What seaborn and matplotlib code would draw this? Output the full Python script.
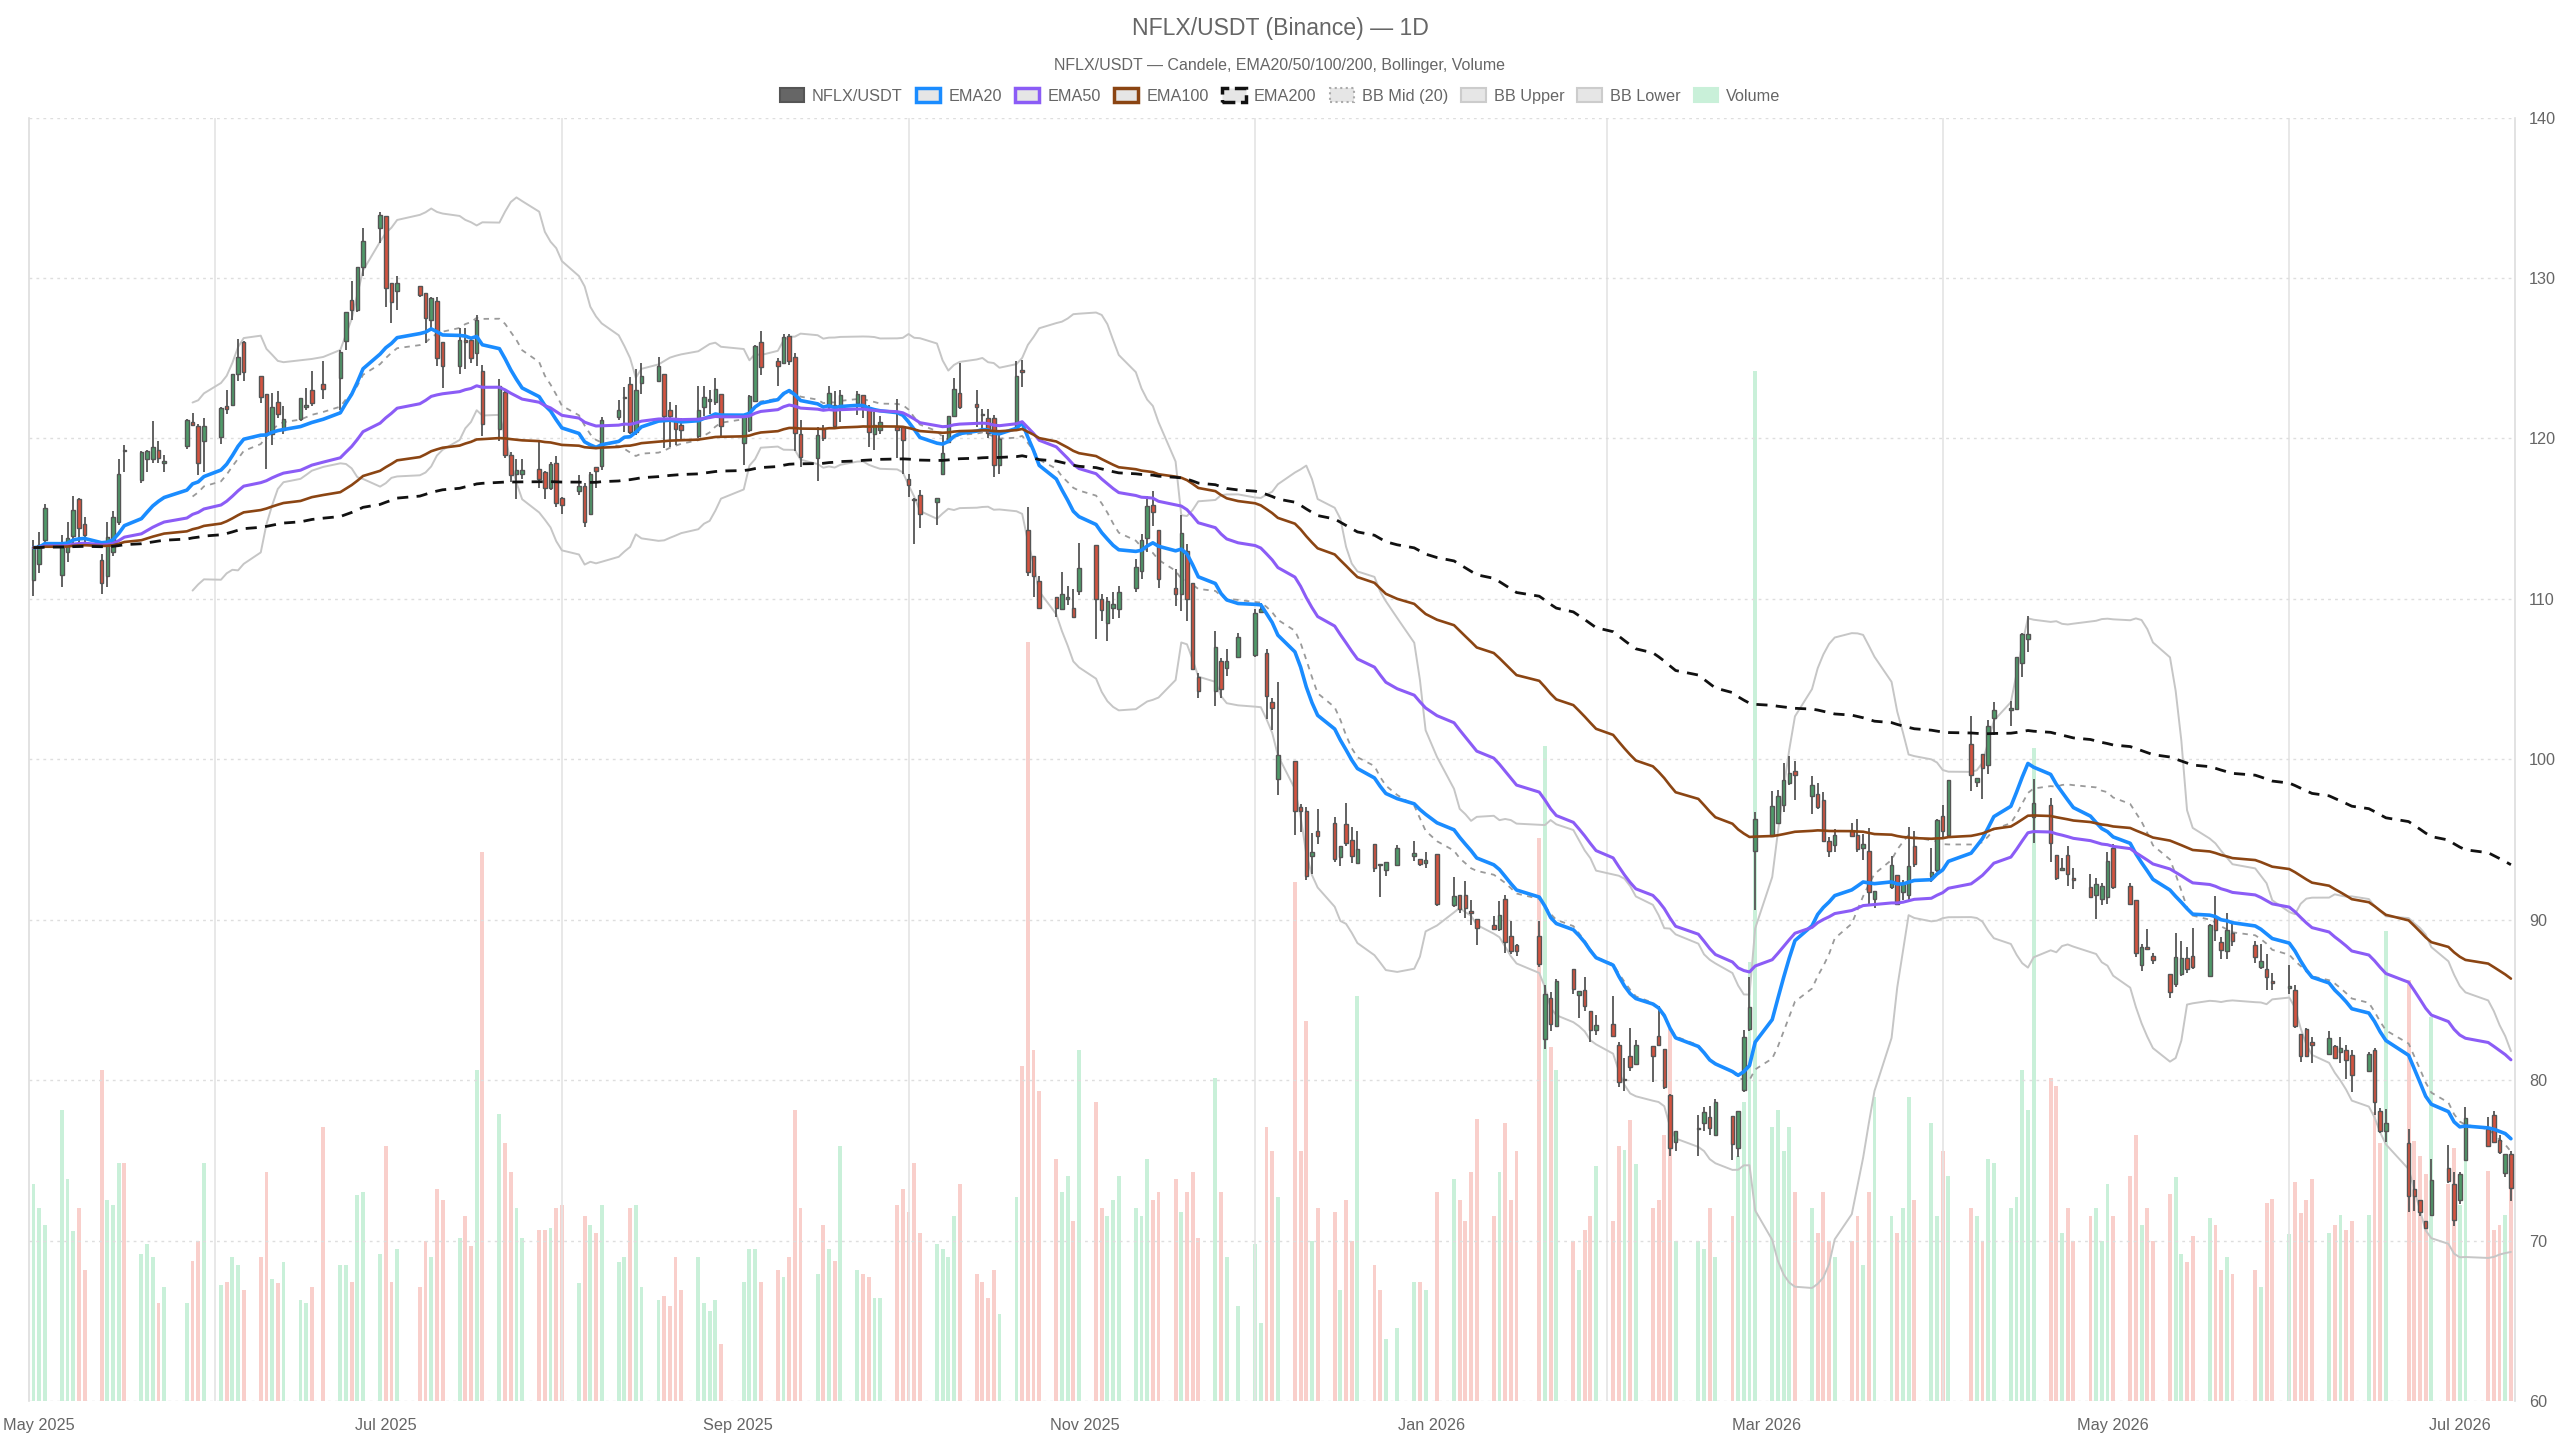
import numpy as np
import pandas as pd
import seaborn as sns
import matplotlib
matplotlib.use('Agg')
import matplotlib.pyplot as plt
import matplotlib.dates as mdates
from matplotlib.patches import Patch

sns.set_theme(style='white')
plt.rcParams['font.family'] = ['Liberation Sans', 'DejaVu Sans']

# trading calendar (NYSE holidays are skipped)
holidays = ['2025-05-26', '2025-06-19', '2025-07-04', '2025-09-01', '2025-11-27', '2025-12-25',
            '2026-01-01', '2026-01-19', '2026-02-16', '2026-04-03', '2026-05-25', '2026-06-19',
            '2026-07-03']
dates = pd.bdate_range('2025-04-30', '2026-07-10', freq='C', holidays=holidays)

# one line per week
opens = [
    111.2, 112.2, 113.7,
    111.5, 112.9, 113.9, 116.2, 114.7,
    112.4, 111.45, 112.9, 114.8, 119.3,
    117.4, 118.7, 118.7, 119.3, 118.45,
    119.55, 121.0, 120.8, 119.85,
    120.1, 122.05, 122.1, 124.0, 126.0,
    123.9, 122.75, 120.25, 122.25, 120.55,
    121.2, 121.95, 123.0, 123.4,
    123.8, 126.05, 128.65, 128.0, 130.7,
    133.1, 133.85, 129.7, 129.2,
    129.5, 129.05, 127.4, 128.55, 126.0,
    124.5, 126.15, 126.15, 125.3, 124.2,
    120.6, 122.9, 118.95, 117.8, 117.8,
    118.1, 117.9, 116.9, 118.5, 116.3,
    116.75, 117.05, 115.3, 118.2, 118.3,
    121.35, 122.5, 123.4, 120.4, 123.45,
    123.6, 124.0, 121.8, 121.15, 120.85,
    120.15, 121.95, 122.35, 122.3, 122.8,
    119.7, 120.5, 122.35, 126.0,
    124.85, 124.7, 126.4, 125.1, 120.25,
    118.8, 120.6, 122.1, 122.1, 121.85,
    122.2, 122.7, 121.85, 120.3, 120.55,
    120.7, 120.7, 117.5, 116.25, 116.5,
    116.05, 117.8, 119.8, 121.4, 122.85,
    122.15, 121.5, 121.25, 121.25, 118.35,
    120.7, 124.3, 114.3, 112.7, 111.1,
    110.1, 109.4, 110.0, 109.45, 110.5,
    113.35, 110.0, 108.5, 109.45, 109.4,
    110.65, 111.75, 113.8, 115.85, 114.3,
    110.7, 110.3, 113.0, 111.0, 105.15,
    104.25, 106.15, 105.7, 106.4,
    106.5, 109.2, 106.65, 103.6, 98.75,
    99.9, 97.05, 96.75, 94.0, 95.5,
    96.0, 93.9, 95.95, 95.0, 93.55,
    94.7, 93.5, 93.1, 93.4,
    94.0, 93.8, 93.55, 94.1,
    90.9, 91.55, 91.55, 90.55, 90.05,
    89.7, 89.4, 91.3, 89.0, 88.4,
    89.0, 82.55, 85.1, 83.4,
    86.9, 85.3, 85.65, 84.3, 83.1,
    83.5, 82.2, 80.0, 81.5, 81.0,
    82.15, 82.75, 81.95, 79.1, 76.15,
    76.95, 77.35, 77.7, 76.6,
    77.75, 75.75, 79.4, 83.2, 94.3,
    95.25, 96.05, 97.15, 98.55, 99.3,
    97.7, 97.85, 97.45, 94.9, 94.65,
    95.55, 95.3, 94.45, 94.3, 91.3,
    92.05, 92.8, 91.7, 91.55, 94.6,
    92.7, 93.1, 96.45, 95.3,
    100.95, 98.6, 100.35, 99.65, 102.55,
    103.05, 103.15, 106.0, 107.5, 96.4,
    97.15, 94.05, 93.1, 94.05, 92.6,
    92.05, 91.55, 91.3, 91.4, 94.45,
    92.1, 91.25, 87.15, 88.3, 87.75,
    86.6, 86.0, 86.6, 87.6, 87.75,
    86.5, 90.2, 88.6, 88.05, 89.15,
    88.45, 87.05, 86.95, 86.2,
    85.75, 85.65, 82.9, 83.2, 82.35,
    81.65, 82.15, 81.75, 81.9, 81.55,
    80.55, 81.9, 78.05, 76.85,
    76.1, 73.2, 72.55, 71.2, 71.6,
    74.55, 73.5, 72.55, 75.05,
    76.95, 77.85, 76.25, 74.2, 75.4,
]

highs = [
    113.7, 114.2, 115.9,
    114.0, 114.8, 116.4, 116.3, 115.1,
    112.8, 114.8, 115.5, 118.75, 119.6,
    119.2, 119.3, 121.1, 119.85, 119.0,
    121.2, 121.6, 120.9, 121.25,
    121.95, 123.0, 124.0, 126.2, 126.1,
    123.9, 122.8, 122.85, 122.95, 122.0,
    122.55, 123.15, 124.2, 124.8,
    125.5, 127.9, 129.8, 130.7, 133.1,
    134.1, 133.9, 129.7, 130.15,
    129.5, 129.1, 128.85, 128.85, 126.0,
    126.9, 126.9, 126.35, 127.7, 124.55,
    123.7, 123.05, 119.15, 118.7, 118.7,
    119.8, 118.0, 118.55, 118.9, 116.35,
    117.7, 117.2, 117.9, 118.25, 121.35,
    122.4, 123.2, 123.85, 124.35, 124.7,
    125.1, 124.0, 122.3, 122.1, 121.25,
    123.3, 123.3, 123.0, 123.75, 122.8,
    121.55, 122.7, 125.8, 126.7,
    125.0, 126.5, 126.5, 125.3, 121.15,
    120.7, 120.85, 123.3, 122.95, 123.0,
    122.95, 122.7, 122.1, 121.65, 121.4,
    122.45, 120.7, 117.8, 116.3, 116.8,
    116.3, 120.2, 121.4, 123.75, 124.7,
    123.05, 121.85, 121.85, 121.45, 120.2,
    124.8, 124.9, 115.7, 112.7, 111.45,
    110.1, 111.65, 110.8, 110.6, 113.5,
    113.35, 110.3, 110.1, 110.4, 110.8,
    112.5, 114.05, 116.4, 116.75, 114.3,
    111.85, 115.2, 113.4, 111.0, 105.4,
    108.0, 106.3, 106.85, 107.9,
    109.35, 109.75, 106.85, 103.85, 104.8,
    99.9, 97.2, 97.0, 95.4, 96.9,
    96.4, 94.6, 97.3, 95.8, 95.55,
    94.7, 93.5, 93.6, 94.65,
    94.9, 93.8, 94.25, 94.1,
    92.65, 91.55, 92.4, 91.2, 90.05,
    90.25, 91.15, 91.55, 89.95, 88.5,
    89.9, 85.95, 85.5, 86.3,
    86.95, 85.55, 86.4, 84.3, 84.05,
    85.25, 82.4, 81.35, 83.25, 82.5,
    82.15, 84.6, 81.95, 79.15, 76.85,
    77.85, 78.3, 78.4, 78.85,
    77.75, 78.1, 83.1, 86.4, 96.7,
    98.05, 98.1, 99.75, 100.2, 99.9,
    98.95, 98.5, 97.95, 95.15, 95.65,
    96.05, 96.3, 95.35, 95.7, 91.8,
    93.95, 92.8, 92.45, 95.8, 95.55,
    94.45, 96.25, 97.15, 98.7,
    102.7, 98.85, 100.35, 102.45, 103.6,
    103.65, 106.35, 107.9, 108.95, 98.75,
    97.6, 94.05, 93.85, 94.6, 93.25,
    92.85, 92.6, 92.3, 94.2, 94.7,
    92.3, 91.25, 88.5, 89.4, 87.95,
    86.6, 89.15, 88.65, 88.3, 89.5,
    89.75, 91.5, 88.9, 90.4, 89.85,
    88.65, 88.5, 87.85, 86.7,
    87.2, 85.95, 82.9, 83.25, 82.7,
    83.05, 82.2, 82.7, 82.2, 81.9,
    81.75, 82.0, 78.25, 78.2,
    76.95, 73.8, 72.55, 71.2, 75.1,
    75.95, 74.25, 74.25, 78.3,
    77.7, 78.1, 76.55, 75.4, 75.6,
]

lows = [
    110.15, 111.6, 113.3,
    110.75, 112.3, 113.5, 113.4, 113.4,
    110.3, 110.75, 112.7, 114.6, 117.9,
    117.2, 117.9, 118.5, 118.5, 117.9,
    119.35, 120.8, 117.7, 117.9,
    119.65, 121.5, 122.05, 123.6, 123.6,
    122.2, 118.1, 119.6, 121.3, 120.25,
    121.1, 121.8, 122.0, 122.45,
    121.8, 125.5, 127.4, 127.9, 130.1,
    132.2, 128.2, 127.2, 128.0,
    128.85, 125.95, 126.8, 124.5, 123.15,
    124.0, 124.35, 124.7, 124.5, 120.15,
    119.85, 118.8, 117.3, 116.25, 117.5,
    116.9, 116.25, 116.8, 115.75, 115.3,
    116.5, 114.5, 115.2, 116.9, 118.05,
    121.15, 120.4, 120.3, 120.2, 122.8,
    123.55, 119.4, 119.5, 119.6, 119.9,
    120.0, 121.4, 121.55, 122.1, 120.15,
    118.35, 120.4, 122.3, 123.95,
    123.25, 124.65, 124.6, 119.25, 118.25,
    117.35, 119.85, 121.75, 120.6, 121.05,
    121.45, 121.3, 119.5, 119.3, 120.3,
    118.8, 117.8, 116.35, 113.45, 114.4,
    114.6, 117.7, 119.7, 121.35, 121.85,
    120.7, 120.6, 120.0, 117.6, 117.8,
    120.65, 123.2, 111.4, 110.1, 109.4,
    108.85, 109.35, 109.65, 108.9, 110.25,
    107.5, 108.6, 107.4, 108.75, 108.8,
    110.4, 111.25, 112.9, 114.55, 110.7,
    109.55, 109.25, 108.6, 105.6, 103.8,
    103.3, 103.8, 105.2, 106.3,
    106.35, 109.1, 102.5, 101.8, 97.8,
    95.3, 95.45, 92.45, 92.85, 94.7,
    93.6, 93.35, 94.6, 93.55, 93.45,
    92.95, 91.4, 92.75, 93.35,
    93.65, 93.35, 93.25, 90.85,
    90.8, 90.4, 90.1, 89.7, 88.4,
    89.4, 89.3, 87.95, 87.85, 87.75,
    87.05, 81.95, 83.05, 83.3,
    85.4, 83.9, 84.3, 82.35, 82.8,
    82.75, 79.6, 79.3, 80.55, 80.95,
    79.9, 82.15, 79.45, 75.25, 75.6,
    75.3, 76.85, 76.6, 76.55,
    75.05, 75.2, 79.25, 83.05, 90.6,
    95.25, 96.0, 96.7, 98.4, 97.45,
    96.6, 96.9, 94.85, 93.9, 94.2,
    95.15, 94.25, 93.7, 90.85, 90.7,
    91.9, 90.9, 91.25, 91.1, 93.3,
    92.35, 92.95, 95.05, 95.25,
    98.0, 98.3, 97.55, 99.1, 101.5,
    102.1, 103.1, 105.1, 106.7, 94.8,
    93.6, 92.45, 93.05, 92.1, 91.9,
    91.4, 90.05, 90.9, 90.95, 91.9,
    90.95, 87.65, 86.8, 88.2, 87.25,
    85.1, 85.8, 86.5, 86.7, 86.9,
    86.4, 88.7, 87.55, 87.55, 88.35,
    87.3, 86.95, 85.65, 85.65,
    85.35, 83.25, 81.1, 81.45, 81.05,
    81.55, 81.35, 81.05, 80.1, 79.25,
    80.5, 77.8, 76.7, 76.15,
    71.75, 71.85, 71.5, 70.7, 71.55,
    73.6, 70.9, 72.25, 75.0,
    75.9, 76.15, 75.4, 73.95, 72.45,
]

closes = [
    113.2, 113.35, 115.65,
    113.4, 113.8, 115.55, 114.4, 114.0,
    111.0, 113.85, 115.1, 117.8, 119.2,
    119.15, 119.25, 119.5, 118.8, 118.6,
    121.15, 120.85, 118.5, 120.75,
    121.9, 121.85, 124.0, 125.05, 124.15,
    122.6, 120.35, 121.95, 121.5, 121.2,
    122.5, 122.1, 122.2, 123.1,
    125.4, 127.9, 128.0, 130.7, 132.3,
    133.95, 129.4, 128.5, 129.7,
    128.95, 127.5, 128.75, 125.0, 124.5,
    126.15, 126.0, 125.0, 127.4, 120.9,
    123.3, 119.0, 117.7, 118.05, 118.05,
    117.45, 116.9, 118.4, 115.95, 115.85,
    117.05, 114.8, 117.8, 118.0, 121.15,
    121.8, 122.55, 120.4, 123.05, 123.9,
    124.5, 121.4, 121.4, 120.6, 120.5,
    121.8, 122.6, 122.45, 123.1, 120.8,
    121.4, 122.65, 125.75, 124.45,
    124.5, 126.35, 124.8, 120.35, 118.85,
    120.2, 120.05, 122.85, 120.75, 122.7,
    122.75, 121.95, 120.4, 120.85, 121.05,
    120.5, 119.9, 117.1, 116.15, 115.3,
    116.3, 119.1, 121.4, 123.1, 121.95,
    121.95, 121.45, 120.35, 118.35, 119.95,
    123.9, 124.15, 111.65, 111.4, 109.45,
    109.45, 110.3, 110.1, 108.9, 111.9,
    110.0, 109.3, 109.9, 109.7, 110.4,
    112.0, 113.7, 115.8, 115.4, 111.25,
    110.3, 114.1, 110.0, 105.65, 104.25,
    107.0, 104.4, 106.15, 107.6,
    109.15, 109.35, 103.95, 103.2, 100.25,
    96.8, 96.75, 92.75, 94.2, 95.25,
    93.8, 94.6, 94.8, 93.95, 94.4,
    93.25, 93.4, 93.6, 94.5,
    94.15, 93.5, 93.75, 91.0,
    91.45, 90.65, 90.7, 90.45, 89.5,
    89.4, 90.3, 88.6, 88.05, 88.05,
    87.25, 85.4, 83.5, 86.15,
    85.7, 85.55, 84.6, 83.15, 83.45,
    82.75, 79.9, 80.1, 80.85, 82.2,
    81.5, 82.2, 79.55, 75.8, 76.85,
    77.0, 78.0, 77.0, 78.65,
    76.0, 78.05, 82.7, 84.55, 96.25,
    97.1, 97.7, 98.7, 99.15, 99.05,
    98.4, 97.05, 94.9, 94.3, 95.3,
    95.25, 94.4, 94.75, 91.75, 91.8,
    93.4, 91.0, 92.25, 93.35, 93.5,
    92.95, 96.2, 95.55, 98.7,
    99.0, 98.85, 99.45, 102.1, 103.05,
    103.2, 106.35, 107.8, 107.8, 97.3,
    94.8, 92.6, 93.25, 92.85, 92.5,
    91.4, 92.25, 92.1, 93.65, 92.05,
    91.0, 87.9, 88.3, 88.2, 87.5,
    85.5, 87.7, 87.6, 86.95, 87.05,
    89.7, 89.35, 88.1, 89.35, 88.65,
    87.7, 87.45, 86.4, 86.05,
    85.85, 83.35, 81.5, 81.5, 82.2,
    82.65, 81.4, 82.0, 81.25, 80.3,
    81.65, 78.65, 76.85, 77.35,
    72.8, 72.75, 71.75, 70.8, 73.75,
    73.7, 71.3, 74.15, 77.65,
    75.9, 76.15, 75.5, 75.4, 73.3,
]

volumes = [
    133, 118, 108,
    178, 136, 104, 118, 80,
    203, 123, 120, 146, 146,
    90, 96, 88, 60, 70,
    60, 86, 98, 146,
    71, 73, 88, 83, 68,
    88, 140, 75, 72, 85,
    62, 60, 70, 168,
    83, 83, 73, 126, 128,
    90, 156, 73, 93,
    70, 98, 88, 130, 123,
    100, 113, 95, 203, 336,
    176, 158, 140, 118, 100,
    105, 105, 106, 118, 120,
    72, 113, 108, 103, 120,
    85, 88, 118, 120, 70,
    62, 64, 58, 88, 68,
    88, 60, 55, 62, 35,
    73, 93, 93, 73,
    80, 76, 88, 178, 118,
    78, 108, 93, 86, 156,
    80, 78, 76, 63, 63,
    120, 130, 116, 146, 103,
    96, 93, 88, 113, 133,
    78, 73, 63, 80, 53,
    125, 205, 465, 215, 190,
    148, 128, 138, 110, 215,
    183, 118, 113, 123, 138,
    118, 113, 148, 123, 128,
    136, 116, 128, 140, 100,
    198, 128, 88, 58,
    96, 48, 168, 153, 125,
    318, 153, 233, 98, 118,
    116, 68, 123, 98, 248,
    83, 68, 38, 45,
    73, 73, 68, 128,
    136, 123, 110, 140, 173,
    113, 140, 170, 123, 153,
    345, 401, 217, 203,
    98, 80, 105, 113, 144,
    110, 156, 154, 172, 145,
    118, 123, 163, 228, 98,
    98, 93, 118, 88,
    113, 150, 183, 269, 631,
    168, 178, 153, 168, 128,
    118, 103, 128, 98, 88,
    98, 113, 83, 128, 186,
    113, 103, 118, 186, 123,
    170, 113, 153, 138,
    118, 113, 98, 148, 146,
    118, 125, 203, 178, 400,
    198, 193, 103, 118, 98,
    113, 118, 98, 133, 113,
    138, 163, 108, 118, 98,
    127, 137, 90, 85, 101,
    112, 108, 80, 88, 78,
    80, 70, 121, 124,
    102, 134, 115, 123, 136,
    103, 108, 114, 105, 110,
    114, 177, 158, 288,
    258, 159, 150, 139, 235,
    133, 155, 120, 148,
    141, 105, 108, 114, 150,
]

title = 'NFLX/USDT (Binance) — 1D'
subtitle = 'NFLX/USDT — Candele, EMA20/50/100/200, Bollinger, Volume'

up_color = '#4f9a69'
down_color = '#d4533f'
vol_up = '#c9f0d9'
vol_down = '#f9cfcb'
ema_colors = {'ema20': '#1a8cff', 'ema50': '#8b5cf6', 'ema100': '#8b4513', 'ema200': '#111111'}

df = pd.DataFrame({'date': dates, 'open': opens, 'high': highs, 'low': lows,
                   'close': closes, 'volume': volumes})
df['up'] = df['close'] >= df['open']
for n in [20, 50, 100, 200]:
    df[f'ema{n}'] = df['close'].ewm(span=n, adjust=False).mean()
df['bb_mid'] = df['close'].rolling(20).mean()
bb_std = df['close'].rolling(20).std(ddof=0)
df['bb_up'] = df['bb_mid'] + 2 * bb_std
df['bb_lo'] = df['bb_mid'] - 2 * bb_std

fig = plt.figure(figsize=(25.6, 14.4), dpi=100)
ax = fig.add_axes([0.0115, 0.0271, 0.9709, 0.8912])
axv = ax.twinx()
ax.set_zorder(axv.get_zorder() + 1)
ax.patch.set_visible(False)

# volume (behind everything)
axv.bar(df['date'], df['volume'], width=0.68,
        color=np.where(df['up'], vol_up, vol_down), linewidth=0)
axv.set_ylim(0, 786)
axv.set_yticks([])
for s in axv.spines.values():
    s.set_visible(False)

# bollinger
sns.lineplot(data=df, x='date', y='bb_up', ax=ax, color='#c6c6c6', linewidth=1.4, legend=False)
sns.lineplot(data=df, x='date', y='bb_lo', ax=ax, color='#c6c6c6', linewidth=1.4, legend=False)
sns.lineplot(data=df, x='date', y='bb_mid', ax=ax, color='#9a9a9a', linewidth=1.3,
             linestyle=(0, (3, 3)), legend=False)

# candles
body_lo = np.minimum(df['open'], df['close'])
body_h = np.maximum(np.abs(df['close'] - df['open']), 0.08)
ax.vlines(df['date'], df['low'], df['high'], color='#555555', linewidth=1.3, zorder=3)
ax.bar(df['date'], body_h, bottom=body_lo, width=0.62,
       color=np.where(df['up'], up_color, down_color), edgecolor='#555555', linewidth=1.0, zorder=4)

# EMAs
sns.lineplot(data=df, x='date', y='ema20', ax=ax, color=ema_colors['ema20'], linewidth=2.6, legend=False, zorder=5)
sns.lineplot(data=df, x='date', y='ema50', ax=ax, color=ema_colors['ema50'], linewidth=2.2, legend=False, zorder=5)
sns.lineplot(data=df, x='date', y='ema100', ax=ax, color=ema_colors['ema100'], linewidth=1.9, legend=False, zorder=5)
sns.lineplot(data=df, x='date', y='ema200', ax=ax, color=ema_colors['ema200'], linewidth=2.0,
             linestyle=(0, (4, 3)), legend=False, zorder=5)

# axes
ax.set_ylim(60, 140)
ax.set_xlim(df['date'].iloc[0] - pd.Timedelta(hours=17), df['date'].iloc[-1] + pd.Timedelta(hours=17))
ax.yaxis.tick_right()
ax.yaxis.set_label_position('right')
ax.set_yticks(range(60, 141, 10))
ax.set_xlabel('')
ax.set_ylabel('')
ax.xaxis.set_major_locator(mdates.MonthLocator(bymonth=[1, 3, 5, 7, 9, 11]))
ax.xaxis.set_major_formatter(mdates.DateFormatter('%b %Y'))
ax.xaxis.set_minor_locator(mdates.MonthLocator(bymonth=[2, 4, 6, 8, 10, 12]))
ax.tick_params(axis='y', colors='#666666', labelsize=11.7, length=0, pad=10)
ax.tick_params(axis='x', which='major', colors='#666666', labelsize=11.7, length=0, pad=12)
ax.tick_params(axis='x', which='minor', length=8, width=1, color='#e2e2e2')
ax.grid(axis='y', which='major', linestyle=(0, (2, 3)), color='#dedede', linewidth=1)
ax.grid(axis='x', which='minor', color='#e4e4e4', linewidth=1.2)
ax.grid(axis='x', which='major', visible=False)
for side in ['top', 'bottom']:
    ax.spines[side].set_visible(False)
for side in ['left', 'right']:
    ax.spines[side].set_color('#dddddd')
    ax.spines[side].set_linewidth(1.2)

fig.text(0.5, 0.9800, title, ha='center', va='center', fontsize=16.6, color='#666666')
fig.text(0.5, 0.9545, subtitle, ha='center', va='center', fontsize=11.5, color='#666666')

legend_fill = '#e6e6e6'
handles = [
    Patch(facecolor='#666666', edgecolor='#555555', linewidth=1.5, label='NFLX/USDT'),
    Patch(facecolor=legend_fill, edgecolor=ema_colors['ema20'], linewidth=2.5, label='EMA20'),
    Patch(facecolor=legend_fill, edgecolor=ema_colors['ema50'], linewidth=2.5, label='EMA50'),
    Patch(facecolor=legend_fill, edgecolor=ema_colors['ema100'], linewidth=2.5, label='EMA100'),
    Patch(facecolor=legend_fill, edgecolor='#111111', linewidth=2.5, linestyle='--', label='EMA200'),
    Patch(facecolor=legend_fill, edgecolor='#aaaaaa', linewidth=1.5, linestyle=':', label='BB Mid (20)'),
    Patch(facecolor=legend_fill, edgecolor='#cccccc', linewidth=1.5, label='BB Upper'),
    Patch(facecolor=legend_fill, edgecolor='#cccccc', linewidth=1.5, label='BB Lower'),
    Patch(facecolor=vol_up, edgecolor=vol_up, linewidth=1.5, label='Volume'),
]
fig.legend(handles=handles, loc='center', bbox_to_anchor=(0.5, 0.9335), ncol=9, frameon=False,
           fontsize=11.7, labelcolor='#666666', handlelength=1.5, handleheight=1.0,
           handletextpad=0.5, columnspacing=0.8)

fig.savefig('out.png', dpi=100)
